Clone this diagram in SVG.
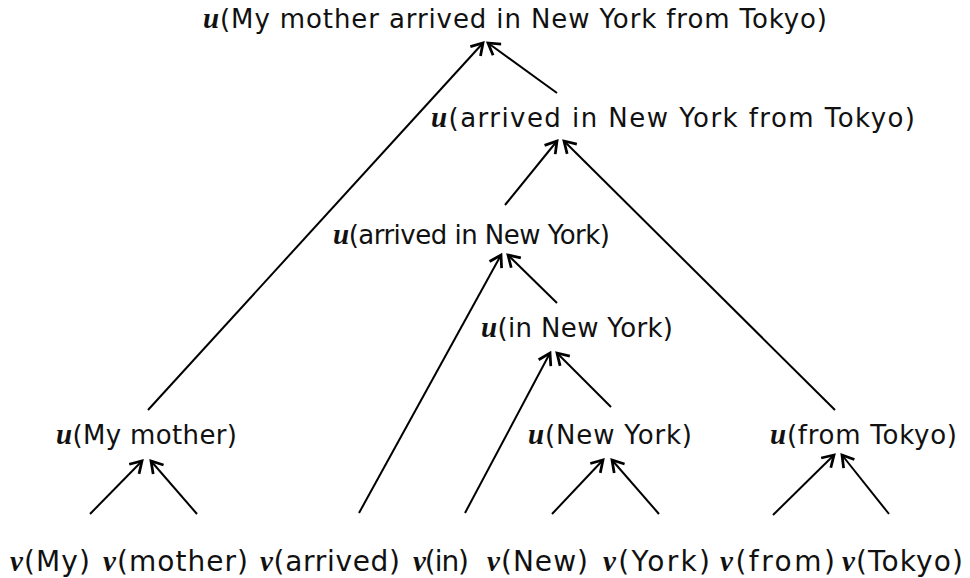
<svg xmlns="http://www.w3.org/2000/svg" width="970" height="578" viewBox="0 0 970 578">
  <defs>
    <marker id="head" markerUnits="userSpaceOnUse" markerWidth="20" markerHeight="20" viewBox="-12 -8 14 16" refX="0" refY="0" orient="auto">
      <path d="M-9,-5.5 L0,0 L-9,5.5" fill="none" stroke="#000" stroke-width="2.2" stroke-linejoin="miter"/>
    </marker>
  </defs>
  <style>
    text { font-family: "DejaVu Sans", "Noto Sans", sans-serif; font-size: 26px; fill: #111; }
    .leaf { font-size: 28px; }
    .m { font-family: "Liberation Serif", "DejaVu Serif", serif; font-style: italic; font-weight: bold; font-size: 29px; }
    .edge { stroke: #000; stroke-width: 2; fill: none; marker-end: url(#head); }
  </style>
  <rect width="970" height="578" fill="#fff"/>

  <!-- phrase nodes -->
  <g id="root"><text x="203" y="28" textLength="624" lengthAdjust="spacing"><tspan class="m">u</tspan>(My mother arrived in New York from Tokyo)</text></g>
  <g id="vp-full"><text x="431" y="127" textLength="484" lengthAdjust="spacing"><tspan class="m">u</tspan>(arrived in New York from Tokyo)</text></g>
  <g id="vp-arrived"><text x="333" y="244" textLength="277" lengthAdjust="spacing"><tspan class="m">u</tspan>(arrived in New York)</text></g>
  <g id="pp-in"><text x="481" y="337" textLength="192" lengthAdjust="spacing"><tspan class="m">u</tspan>(in New York)</text></g>
  <g id="np-mother"><text x="56" y="444" textLength="181" lengthAdjust="spacing"><tspan class="m">u</tspan>(My mother)</text></g>
  <g id="np-newyork"><text x="528" y="444" textLength="164" lengthAdjust="spacing"><tspan class="m">u</tspan>(New York)</text></g>
  <g id="pp-from"><text x="770" y="444" textLength="187" lengthAdjust="spacing"><tspan class="m">u</tspan>(from Tokyo)</text></g>

  <!-- word nodes -->
  <g id="w-my"><text class="leaf" x="10" y="571" textLength="80" lengthAdjust="spacing"><tspan class="m">v</tspan>(My)</text></g>
  <g id="w-mother"><text class="leaf" x="103" y="571" textLength="145" lengthAdjust="spacing"><tspan class="m">v</tspan>(mother)</text></g>
  <g id="w-arrived"><text class="leaf" x="260" y="571" textLength="140" lengthAdjust="spacing"><tspan class="m">v</tspan>(arrived)</text></g>
  <g id="w-in"><text class="leaf" x="413" y="571" textLength="56" lengthAdjust="spacing"><tspan class="m">v</tspan>(in)</text></g>
  <g id="w-new"><text class="leaf" x="487" y="571" textLength="101" lengthAdjust="spacing"><tspan class="m">v</tspan>(New)</text></g>
  <g id="w-york"><text class="leaf" x="603" y="571" textLength="107" lengthAdjust="spacing"><tspan class="m">v</tspan>(York)</text></g>
  <g id="w-from"><text class="leaf" x="720" y="571" textLength="115" lengthAdjust="spacing"><tspan class="m">v</tspan>(from)</text></g>
  <g id="w-tokyo"><text class="leaf" x="842" y="571" textLength="121" lengthAdjust="spacing"><tspan class="m">v</tspan>(Tokyo)</text></g>

  <!-- connectors -->
  <g id="edges">
    <line class="edge" x1="148" y1="410" x2="483" y2="43"/>
    <line class="edge" x1="557" y1="93" x2="488" y2="43"/>
    <line class="edge" x1="505" y1="205" x2="557" y2="141"/>
    <line class="edge" x1="835" y1="410" x2="564" y2="141"/>
    <line class="edge" x1="359" y1="513" x2="501" y2="255"/>
    <line class="edge" x1="557" y1="303" x2="508" y2="255"/>
    <line class="edge" x1="465" y1="513" x2="550" y2="353"/>
    <line class="edge" x1="611" y1="407" x2="557" y2="353"/>
    <line class="edge" x1="90" y1="514" x2="142" y2="461"/>
    <line class="edge" x1="197" y1="514" x2="151" y2="461"/>
    <line class="edge" x1="552" y1="514" x2="603" y2="460"/>
    <line class="edge" x1="659" y1="514" x2="612" y2="460"/>
    <line class="edge" x1="773" y1="515" x2="834" y2="455"/>
    <line class="edge" x1="889" y1="514" x2="842" y2="455"/>
  </g>
</svg>
